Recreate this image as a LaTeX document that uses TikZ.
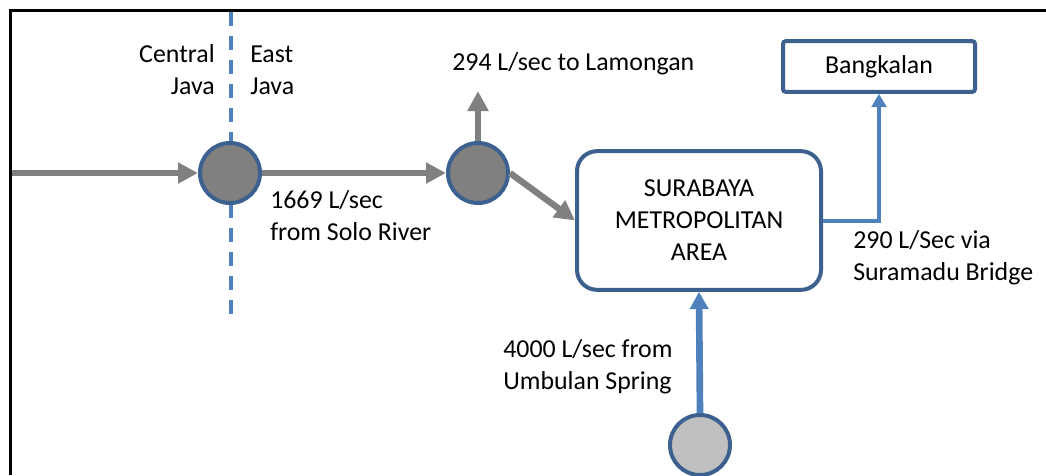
\documentclass[tikz,border=0pt]{standalone}
\usepackage{fontspec}
\setmainfont{Carlito}
\usetikzlibrary{arrows.meta}
\definecolor{circborder}{RGB}{60,97,143}
\definecolor{flowgray}{RGB}{128,128,128}
\definecolor{flowblue}{RGB}{79,129,189}
\definecolor{darkfill}{RGB}{128,128,128}
\definecolor{lightfill}{RGB}{192,192,192}
\tikzset{
  lbl/.style={inner sep=0pt, font=\fontsize{19.4pt}{24pt}\selectfont, text=black},
  junction/.style={circle, draw=circborder, line width=3pt, minimum size=45pt, inner sep=0pt, fill=darkfill},
  spring/.style={circle, draw=circborder, line width=3pt, minimum size=45pt, inner sep=0pt, fill=lightfill},
  grayflow/.style={draw=flowgray, line width=4.8pt, -{Triangle[length=15pt,width=15pt]}, fill=flowgray},
  blueflow/.style={draw=flowblue, line width=5pt, -{Triangle[length=13pt,width=13.5pt]}},
  thinblue/.style={draw=flowblue, line width=3pt, -{Triangle[length=10pt,width=11pt]}},
  areabox/.style={draw=circborder, line width=3pt, rounded corners=15pt, minimum width=183pt, minimum height=104pt, align=center, inner sep=0pt, font=\fontsize{19.4pt}{24pt}\selectfont},
  destbox/.style={draw=circborder, line width=3pt, rounded corners=2pt, minimum width=144pt, minimum height=38pt, inner sep=0pt, font=\fontsize{19.4pt}{24pt}\selectfont}
}
\begin{document}
\begin{tikzpicture}[x=0.75pt,y=-0.75pt]
\useasboundingbox (0,0) rectangle (1046,475);
% frame
\draw[line width=2.25pt, black] (10,475) -- (10,10.5) -- (1046,10.5);
% province border
\coordinate (bt) at (231,12);
\coordinate (bb) at (231,322);
\draw[draw=flowblue, line width=2.4pt, dash pattern=on 10.5pt off 7.5pt] (bt) -- (bb);
% nodes
\node[junction] (c1) at (230,173) {};
\node[junction] (c2) at (478,173) {};
\node[spring] (c3) at (700,445) {};
\node[areabox] (sma) at (699,220.5) {SURABAYA\\METROPOLITAN\\AREA};
\node[destbox] (bk) at (879,66.5) {Bangkalan};
\coordinate (src) at (12,173);
\coordinate (lam) at (478,91);
\coordinate (bend) at (879,220.5);
% labels
\node[lbl, anchor=east, align=right] (cj) at (215,70) {Central\\Java};
\node[lbl, anchor=west, align=left] (ej) at (250,70) {East\\Java};
\node[lbl, anchor=west] (l294) at (452,64) {294 L/sec to Lamongan};
\node[lbl, anchor=west, align=left] (l1669) at (270,216) {1669 L/sec\\from Solo River};
\node[lbl, anchor=west, align=left] (l290) at (853,258) {290 L/Sec via\\Suramadu Bridge};
\node[lbl, anchor=west, align=left] (l4000) at (503,367) {4000 L/sec from\\Umbulan Spring};
% connectors
\draw[grayflow] (src) -- (c1.west);
\draw[grayflow] (c1.east) -- (c2.west);
\draw[grayflow] (c2.north) -- (lam);
\draw[grayflow] (c2.east) -- (sma.west);
\draw[blueflow] (c3.north) -- (sma.south);
\draw[thinblue] (sma.east) -- (bend) -- (bk.south);
\end{tikzpicture}
\end{document}
